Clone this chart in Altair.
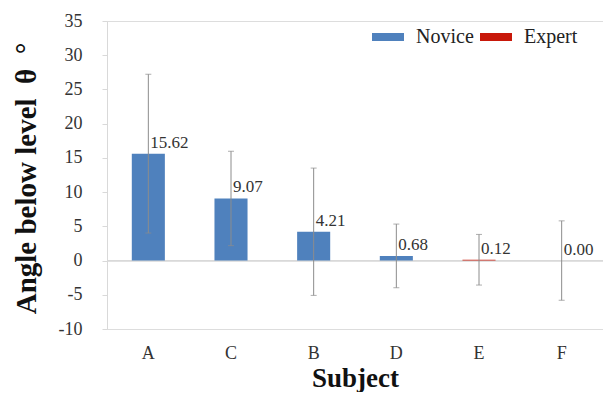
import altair as alt
import pandas as pd

subjects = ["A", "C", "B", "D", "E", "F"]
means = [15.62, 9.07, 4.21, 0.68, 0.12, 0.00]
groups = ["Novice", "Novice", "Novice", "Novice", "Expert", "Expert"]
errors = [11.6, 6.9, 9.3, 4.65, 3.7, 5.8]
y_ticks = [-10, -5, 0, 5, 10, 15, 20, 25, 30, 35]

df = pd.DataFrame({
    "subject": subjects,
    "mean": means,
    "group": groups,
    "lo": [m - e for m, e in zip(means, errors)],
    "hi": [m + e for m, e in zip(means, errors)],
})

FONT = "Liberation Serif"

x = alt.X(
    "subject:N",
    sort=subjects,
    scale=alt.Scale(paddingInner=0.6, paddingOuter=0.3),
    axis=alt.Axis(
        title="Subject", titleFont=FONT, titleFontSize=27, titleFontWeight="bold",
        titleColor="#111", titleY=57, titleBaseline="alphabetic",
        labelAngle=0, labelFont=FONT, labelFontSize=18, labelColor="#333",
        labelPadding=15, ticks=False, domain=False, grid=False,
    ),
)
yscale = alt.Scale(domain=[-10, 35], nice=False, zero=False)
yaxis = alt.Axis(
    title="Angle below level\u00a0\u00a0θ\u00a0\u00a0°", titleFont=FONT, titleFontSize=29,
    titleFontWeight="bold", titleColor="#111", titleX=-66, titleY=157,
    titleAngle=270, titleBaseline="bottom", titleAlign="center",
    values=y_ticks, labelOverlap=False, labelExpr="'' + datum.value",
    labelFont=FONT, labelFontSize=18, labelColor="#333",
    labelPadding=20, tickSize=5, tickColor="#d9d9d9", domainColor="#d9d9d9",
    grid=False,
)

base = alt.Chart(df)

zero = base.mark_rule(color="#d9d9d9", strokeWidth=1.2).encode(
    y=alt.datum(0, scale=yscale, axis=yaxis)
)

bars = base.mark_bar().encode(
    x=x,
    y=alt.Y("mean:Q", scale=yscale, axis=yaxis),
    color=alt.Color(
        "group:N",
        scale=alt.Scale(domain=["Novice", "Expert"], range=["#4F81BD", "#C8180A"]),
        legend=alt.Legend(
            title=None, orient="none", legendX=265, legendY=0, direction="horizontal",
            symbolType="M-1,-0.25H1V0.25H-1Z", symbolSize=1024, symbolStrokeWidth=0,
            symbolOpacity=1, labelFont=FONT, labelFontSize=20, labelColor="#222",
            labelOffset=12, columnPadding=6, padding=0,
        ),
    ),
)

err = base.mark_rule(color="#8c8c8c", strokeWidth=1).encode(
    x=x, y=alt.Y("lo:Q", scale=yscale, axis=yaxis), y2="hi:Q"
)
cap_lo = base.mark_tick(color="#8c8c8c", size=6, thickness=1).encode(
    x=x, y=alt.Y("lo:Q", scale=yscale, axis=yaxis)
)
cap_hi = base.mark_tick(color="#8c8c8c", size=6, thickness=1).encode(
    x=x, y=alt.Y("hi:Q", scale=yscale, axis=yaxis)
)
labels = base.mark_text(
    align="left", baseline="bottom", dx=2, dy=-2, font=FONT, fontSize=17, color="#333"
).encode(
    x=x,
    y=alt.Y("mean:Q", scale=yscale, axis=yaxis),
    text=alt.Text("mean:Q", format=".2f"),
)

chart = (
    alt.layer(zero, bars, err, cap_lo, cap_hi, labels)
    .properties(
        width=496, height=308, autosize=alt.AutoSizeParams(type="none"),
        padding={"left": 99, "top": 13, "right": 0, "bottom": 63},
    )
    .configure_view(stroke=None)
    .configure_text(font=FONT)
    .configure(background="white", font=FONT)
)

chart.save("out.html", embed_options={"renderer": "svg", "actions": False})
